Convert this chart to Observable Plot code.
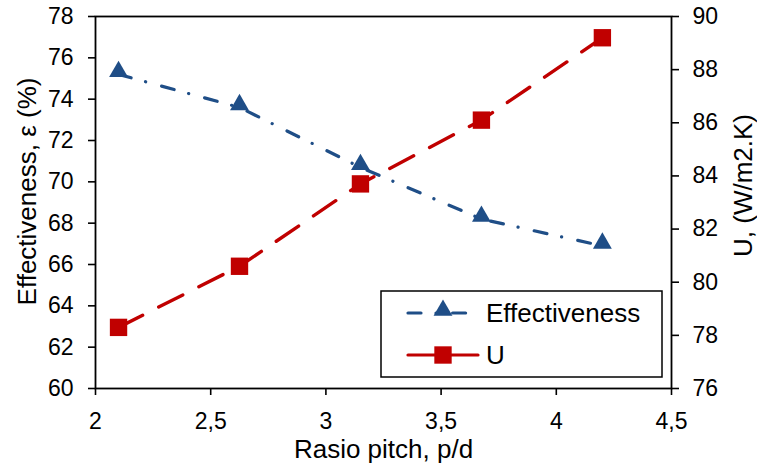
<!DOCTYPE html>
<html>
<head>
<meta charset="utf-8">
<script src="https://cdn.jsdelivr.net/npm/d3@7"></script>
<script src="https://cdn.jsdelivr.net/npm/@observablehq/plot@0.6"></script>
<style>
  html, body { margin: 0; padding: 0; background: white; }
  #chart { width: 757px; height: 468px; }
</style>
</head>
<body>
<div id="chart"></div>
<script>
// ---- Data ----
const pitch = [2.1, 2.625, 3.15, 3.675, 4.2];
const effectiveness = [75.2, 73.6, 70.7, 68.2, 66.9];
const uValues = [78.3, 80.6, 83.7, 86.1, 89.2];
const xTicks = [2, 2.5, 3, 3.5, 4, 4.5];
const yTicks = [60, 62, 64, 66, 68, 70, 72, 74, 76, 78];
const uTicks = [76, 78, 80, 82, 84, 86, 88, 90];
const seriesNames = ["Effectiveness", "U"];
const xTitle = "Rasio pitch, p/d";
const yTitle = "Effectiveness, \u03b5 (%)";
const uTitle = "U, (W/m2.K)";

const blue = "#1F4E87";
const red = "#C00000";

// map U (right axis) onto the left y scale
const yMin = 60, yMax = 78, uMin = 76, uMax = 90;
const toLeft = u => yMin + (u - uMin) * (yMax - yMin) / (uMax - uMin);

const effData = pitch.map((p, i) => ({x: p, y: effectiveness[i]}));
const uData = pitch.map((p, i) => ({x: p, y: toLeft(uValues[i])}));
const comma = d => String(d).replace(".", ",");

const font = "Liberation Sans, Arial, sans-serif";

const chart = Plot.plot({
  width: 757,
  height: 468,
  marginLeft: 95,
  marginRight: 86,
  marginTop: 16,
  marginBottom: 80,
  style: {fontFamily: font, color: "black", background: "white"},
  x: {domain: [2, 4.5]},
  y: {domain: [yMin, yMax]},
  marks: [
    Plot.axisX({ticks: xTicks, tickFormat: comma, tickSize: 7, tickPadding: 17, fontSize: 23, strokeWidth: 1.6, label: null}),
    Plot.axisY({anchor: "left", ticks: yTicks, tickSize: 7, tickPadding: 15, fontSize: 23, strokeWidth: 1.6, label: null}),
    Plot.axisY({anchor: "right", ticks: uTicks.map(toLeft), tickFormat: () => "", tickSize: 7, strokeWidth: 1.6, label: null}),
    Plot.text(uTicks, {y: d => toLeft(d), text: d => String(d), frameAnchor: "right", textAnchor: "start", lineAnchor: "middle", dx: 21, fontSize: 23, fill: "black"}),
    Plot.frame({stroke: "black", strokeWidth: 1.8}),
    Plot.line(effData, {x: "x", y: "y", stroke: blue, strokeWidth: 3.2, strokeDasharray: "13,15,0.1,16.5", strokeLinecap: "round"}),
    Plot.line(uData, {x: "x", y: "y", stroke: red, strokeWidth: 3.4, strokeDasharray: "27,18", strokeLinecap: "round"}),
    Plot.dot(effData, {x: "x", y: "y", symbol: "triangle", r: 7, fill: blue, stroke: null, dy: -2.7}),
    Plot.dot(uData, {x: "x", y: "y", symbol: "square", r: 9.8, fill: red, stroke: null}),
    Plot.text([xTitle], {text: d => d, frameAnchor: "bottom", textAnchor: "middle", lineAnchor: "middle", dy: 61, fontSize: 26, fill: "black"}),
    Plot.text([yTitle], {text: d => d, frameAnchor: "left", textAnchor: "middle", lineAnchor: "middle", rotate: -90, dx: -68, dy: -11, fontSize: 26, fill: "black"}),
    Plot.text([uTitle], {text: d => d, frameAnchor: "right", textAnchor: "middle", lineAnchor: "middle", rotate: -90, dx: 72, dy: -17, fontSize: 26, fill: "black"})
  ]
});

// ---- Legend (inside plot area, bottom-right) ----
const svg = d3.select(chart);
const lg = svg.append("g").attr("font-family", font).attr("text-anchor", "start");
const fr = {left: 95, right: 757 - 86, top: 16, bottom: 468 - 80};
const box = {x: fr.right - 290, y: fr.bottom - 97, w: 281, h: 86};
lg.append("rect").attr("x", box.x).attr("y", box.y).attr("width", box.w).attr("height", box.h)
  .attr("fill", "white").attr("stroke", "black").attr("stroke-width", 1.5);
const rows = [
  {name: seriesNames[0], color: blue, dash: "13,15,0.1,16.5", sym: d3.symbolTriangle, r: 7, dy: -2.7, cy: box.y + 22},
  {name: seriesNames[1], color: red, dash: null, sym: d3.symbolSquare, r: 9.8, dy: 0, cy: box.y + 64}
];
for (const row of rows) {
  const x0 = box.x + 27, x1 = box.x + 97, xm = box.x + 62;
  lg.append("line").attr("x1", x0).attr("x2", x1).attr("y1", row.cy).attr("y2", row.cy)
    .attr("stroke", row.color).attr("stroke-width", 3.2).attr("stroke-linecap", "round")
    .attr("stroke-dasharray", row.dash);
  lg.append("path").attr("d", d3.symbol(row.sym, Math.PI * row.r * row.r)())
    .attr("transform", `translate(${xm},${row.cy + row.dy})`).attr("fill", row.color);
  lg.append("text").attr("x", box.x + 105).attr("y", row.cy).attr("dy", "0.35em")
    .attr("text-anchor", "start").attr("font-size", 26).attr("fill", "black").text(row.name);
}

document.getElementById("chart").appendChild(chart);
</script>
</body>
</html>
